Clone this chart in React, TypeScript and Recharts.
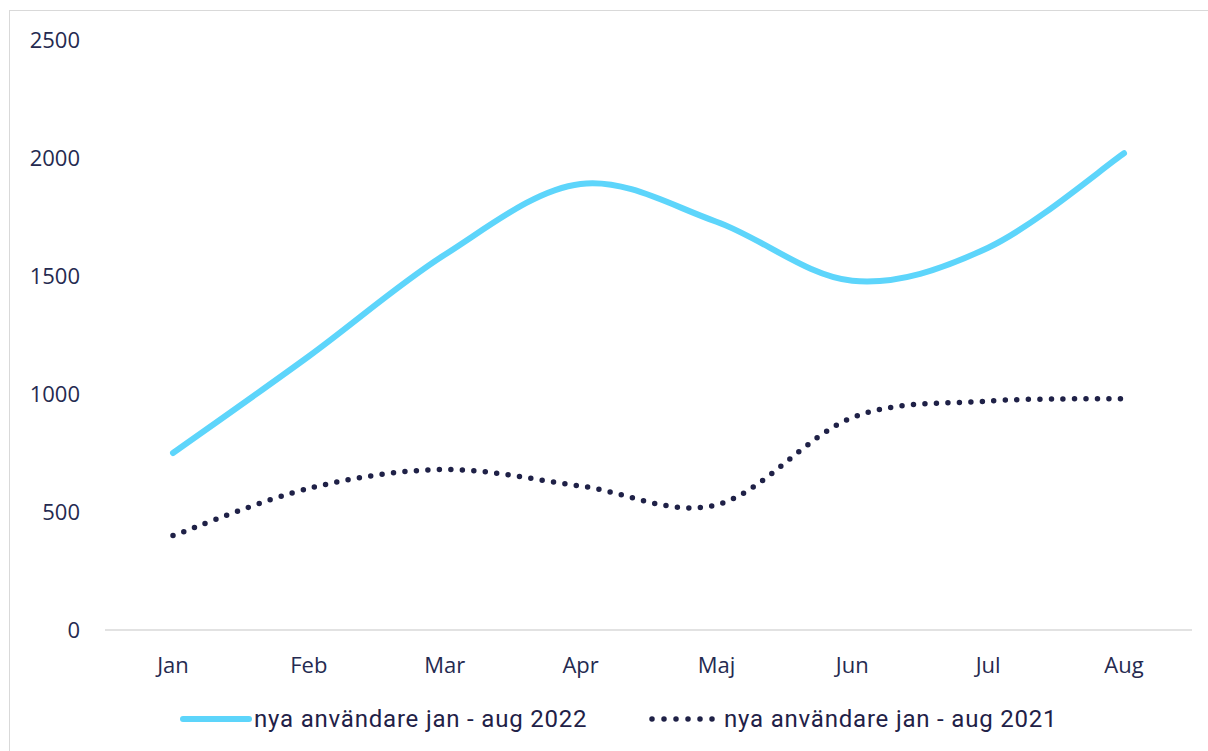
import React from 'react';
import { LineChart, Line, XAxis, YAxis, Legend } from 'recharts';

const months = ['Jan', 'Feb', 'Mar', 'Apr', 'Maj', 'Jun', 'Jul', 'Aug'];
const users2022 = [750, 1160, 1590, 1890, 1730, 1480, 1620, 2020];
const users2021 = [400, 600, 680, 610, 530, 900, 970, 980];
const yTicks = [0, 500, 1000, 1500, 2000, 2500];

const label2022 = 'nya användare jan - aug 2022';
const label2021 = 'nya användare jan - aug 2021';

const data = months.map((m, i) => ({ month: m, y2022: users2022[i], y2021: users2021[i] }));

const NAVY = '#1f2147';
const CYAN = '#5dd5fb';
const TEXT = '#252a50';

// Excel-style smoothed line (Catmull-Rom through every point)
const smoothCurve = (context: any) => {
  let pts: number[][] = [];
  return {
    areaStart() {},
    areaEnd() {},
    lineStart() { pts = []; },
    point(x: number, y: number) { pts.push([+x, +y]); },
    lineEnd() {
      if (!pts.length) return;
      context.moveTo(pts[0][0], pts[0][1]);
      for (let i = 0; i < pts.length - 1; i++) {
        const p0 = pts[i - 1] || pts[i];
        const p1 = pts[i];
        const p2 = pts[i + 1];
        const p3 = pts[i + 2] || p2;
        context.bezierCurveTo(
          p1[0] + (p2[0] - p0[0]) / 6, p1[1] + (p2[1] - p0[1]) / 6,
          p2[0] - (p3[0] - p1[0]) / 6, p2[1] - (p3[1] - p1[1]) / 6,
          p2[0], p2[1],
        );
      }
    },
  };
};

const legendText: React.CSSProperties = {
  fontFamily: 'Roboto, sans-serif', fontSize: 24, letterSpacing: 0.8, color: NAVY, whiteSpace: 'nowrap',
};

function ChartLegend() {
  return (
    <div style={{ position: 'relative', height: 61, width: 1208 }}>
      <div style={{ position: 'absolute', left: 177, top: 15, display: 'flex', alignItems: 'center' }}>
        <svg width={77} height={22}>
          <line x1={6} y1={11} x2={72} y2={11} stroke={CYAN} strokeWidth={6} strokeLinecap="round" />
        </svg>
        <span style={legendText}>{label2022}</span>
      </div>
      <div style={{ position: 'absolute', left: 647, top: 15, display: 'flex', alignItems: 'center' }}>
        <svg width={77} height={22}>
          <line x1={5} y1={11} x2={66} y2={11} stroke={NAVY} strokeWidth={5.5}
            strokeLinecap="round" strokeDasharray="0 12" />
        </svg>
        <span style={legendText}>{label2021}</span>
      </div>
    </div>
  );
}

export default function App() {
  const tick = { fontFamily: '"Open Sans", sans-serif', fontSize: 22, fill: TEXT };
  return (
    <div style={{ position: 'absolute', left: 0, top: 0, width: 1208, height: 751, overflow: 'hidden', background: '#fff' }}>
      <div style={{
        position: 'absolute', left: 9, top: 10, width: 1300, height: 900,
        border: '1.5px solid #d9d9d9',
      }} />
      <LineChart width={1208} height={751} data={data}
        margin={{ top: 40, right: 16, bottom: 0, left: 25 }}>
        <XAxis dataKey="month" tick={tick} tickLine={false} tickSize={0} tickMargin={27}
          height={60} padding={{ left: 68, right: 68 }}
          axisLine={{ stroke: '#d9d9d9', strokeWidth: 1.5 }} />
        <YAxis domain={[0, 2500]} ticks={yTicks} tick={tick} tickLine={false} tickSize={0}
          tickMargin={25} width={80} axisLine={false} />
        <Legend verticalAlign="bottom" wrapperStyle={{ left: 0, width: 1208 }}
          content={() => <ChartLegend />} />
        <Line dataKey="y2022" name={label2022} type={smoothCurve as any} stroke={CYAN}
          strokeWidth={6} strokeLinecap="round" dot={false} activeDot={false} isAnimationActive={false} />
        <Line dataKey="y2021" name={label2021} type={smoothCurve as any} stroke={NAVY}
          strokeWidth={5.5} strokeLinecap="round" strokeDasharray="0 11.5" dot={false}
          activeDot={false} isAnimationActive={false} />
      </LineChart>
    </div>
  );
}
